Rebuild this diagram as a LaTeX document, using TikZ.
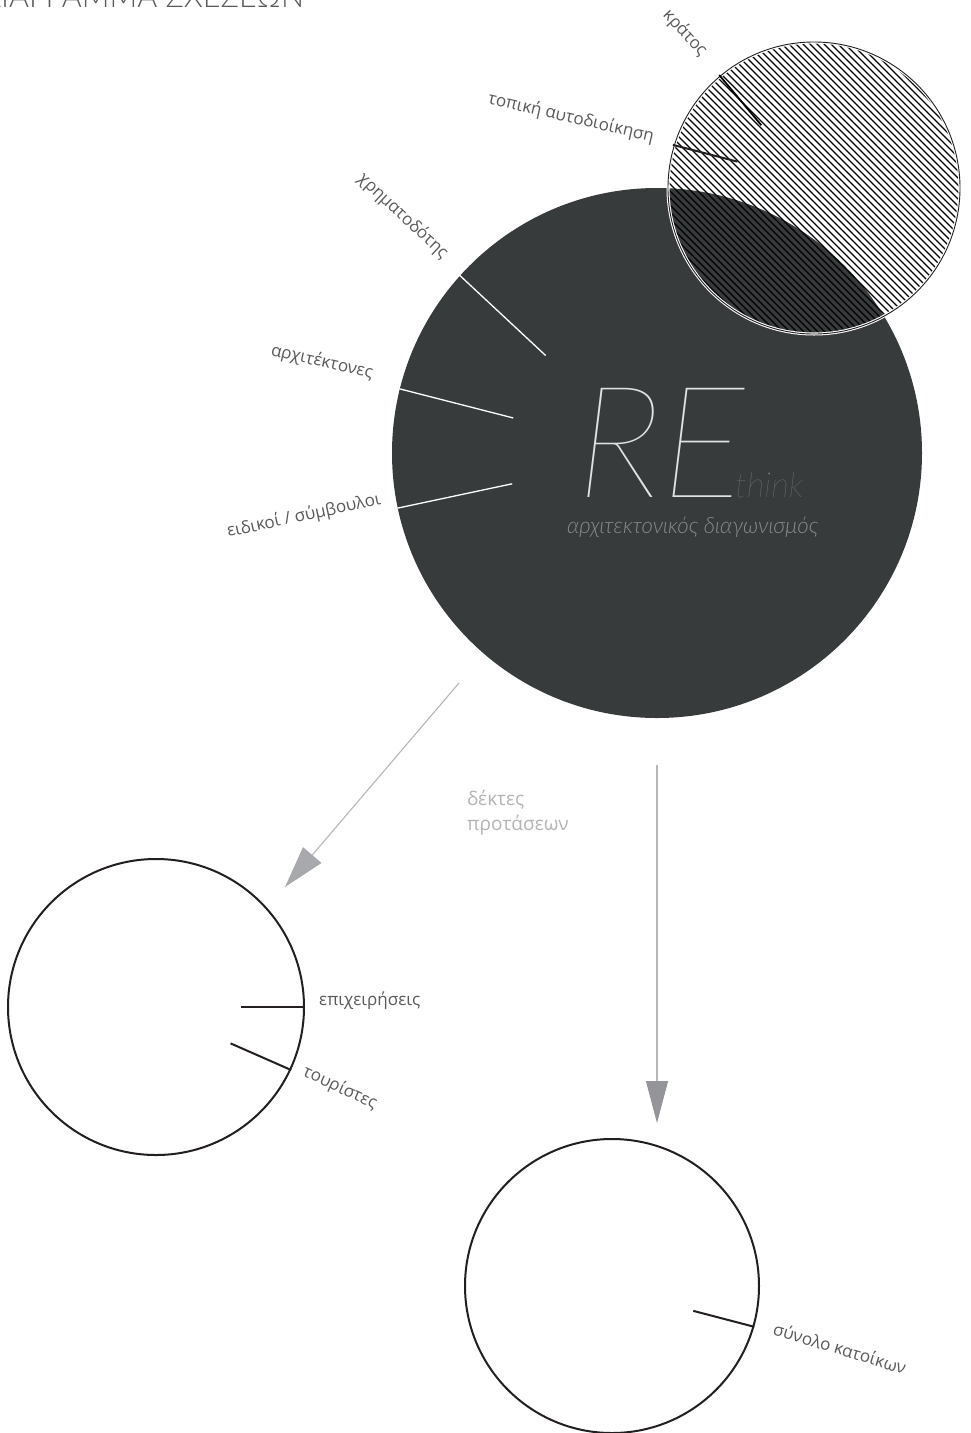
\documentclass[tikz,border=0pt]{standalone}
\usepackage{fontspec}
\setmainfont{Open Sans}
\newfontfamily\hairfont{Lato}[UprightFont=* Hairline, ItalicFont=* Hairline Italic]
\newfontfamily\lightfont{Lato}[UprightFont=* Light, ItalicFont=* Light Italic]
\usetikzlibrary{arrows.meta,positioning}
\definecolor{discgray}{RGB}{56,59,60}
\definecolor{inkgray}{RGB}{35,31,32}
\definecolor{lblgray}{RGB}{88,89,91}
\definecolor{linegray}{RGB}{180,182,184}
\definecolor{headgray}{RGB}{167,169,172}
\definecolor{headdark}{RGB}{147,149,152}
\definecolor{faintgray}{RGB}{178,180,182}
\definecolor{subgray}{RGB}{135,138,140}

\begin{document}
\begin{tikzpicture}[
  x=1pt, y=1pt,
  bigdisc/.style={circle, fill=discgray, inner sep=0pt, minimum size=530pt},
  hatchdisc/.style={circle, inner sep=0pt, minimum size=292pt,
    draw=white, line width=3pt,
    path picture={
      \foreach \k in {-336,-329,...,336}
        \draw[black, line width=1.1pt]
          ([xshift=\k pt]path picture bounding box.center)
          ++(-170pt,170pt) -- ++(340pt,-340pt);
    }},
  ring/.style={circle, draw=inkgray, line width=2pt, inner sep=0pt},
  spoke/.style={white, line width=1.3pt},
  tick/.style={inkgray, line width=2pt},
  lbl/.style={inner sep=0pt, text=lblgray, font=\fontsize{17}{20}\selectfont},
  feed/.style={linegray, line width=1.1pt},
]
  \useasboundingbox (0,0) rectangle (970,-1433);

  % title, cut by the page edge
  \node[inner sep=0pt, anchor=base west, text=lblgray,
        font=\lightfont\fontsize{30.5}{33}\selectfont] (title) at (-19,-7)
        {ΔΙΑΓΡΑΜΜΑ ΣΧΕΣΕΩΝ};

  % competition
  \node[bigdisc] (core) at (657,-453) {};
  \draw[spoke] (core.138.8) -- ([shift={(138.8:148pt)}]core.center);
  \draw[spoke] (core.166.3) -- ([shift={(166.3:148pt)}]core.center);
  \draw[spoke] (core.192)   -- ([shift={(192:148pt)}]core.center);

  \node[inner sep=0pt, anchor=base west, text=white!85!discgray,
        font=\hairfont\itshape\fontsize{156}{160}\selectfont] (re) at (576,-497) {RE};
  \node[inner sep=0pt, anchor=base west, text=subgray!85!discgray,
        font=\hairfont\itshape\fontsize{35}{36}\selectfont] (think) at (735,-497) {think};
  \node[inner sep=0pt, anchor=base west, text=subgray,
        font=\lightfont\itshape\fontsize{22.3}{26}\selectfont] (contest) at (567,-533)
        {αρχιτεκτονικός διαγωνισμός};

  % state and local government
  \node[hatchdisc] (state) at (814,-188) {};
  \draw[inkgray, line width=0.9pt] (state.center) circle[radius=146pt];
  \draw[black, line width=1.8pt] (state.130.5) -- ([shift={(130pt:82pt)}]state.center);
  \draw[inkgray, line width=2pt] (state.163.3) -- ([shift={(161pt:81pt)}]state.center);

  \node[lbl, rotate=-47] (kratos) at (685,-33) {κράτος};
  \node[lbl, rotate=-13] (topiki) at (571,-118) {τοπική αυτοδιοίκηση};
  \node[lbl, rotate=-43] (funder) at (403,-216) {χρηματοδότης};
  \node[lbl, rotate=-13] (archs)  at (322,-362) {αρχιτέκτονες};
  \node[lbl, rotate=12]  (expert) at (304,-516) {ειδικοί / σύμβουλοι};

  % receivers
  \node[ring, minimum size=296pt] (trade) at (156,-1007) {};
  \draw[tick] (trade.0)     -- ([shift={(0:85pt)}]trade.center);
  \draw[tick] (trade.-25.7) -- ([shift={(-26:83pt)}]trade.center);
  \node[lbl, anchor=base west] (firms) at (319,-1005) {επιχειρήσεις};
  \node[lbl, rotate=-25] (tourists) at (340,-1088) {τουρίστες};

  \node[ring, minimum size=294pt] (town) at (612,-1286) {};
  \draw[tick] (town.-16.7) -- ([shift={(-17:85pt)}]town.center);
  \node[lbl, rotate=-17] (locals) at (840,-1348) {σύνολο κατοίκων};

  \coordinate (leftfrom) at (459,-683);
  \coordinate (leftto)   at (285,-887);
  \coordinate (downfrom) at (657,-765);
  \coordinate (downto)   at (657,-1123);
  \draw[feed, -{Triangle[length=42pt,width=24pt,color=headgray]}] (leftfrom) -- (leftto);
  \draw[feed, -{Triangle[length=42pt,width=22pt,color=headdark]}] (downfrom) -- (downto);

  \node[inner sep=0pt, anchor=north west, align=left, text=faintgray,
        font=\fontsize{19}{25}\selectfont] (offers) at (467,-790)
        {δέκτες\\προτάσεων};
\end{tikzpicture}
\end{document}
